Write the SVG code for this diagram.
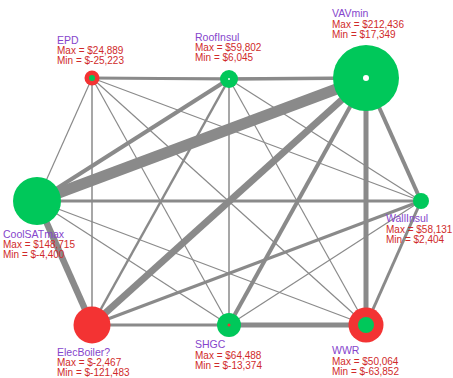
<svg xmlns="http://www.w3.org/2000/svg" width="453" height="378" viewBox="0 0 453 378">
<style>
.e{stroke:#8a8a8a;fill:none;stroke-linecap:butt}
.g{fill:#00c85a}
.r{fill:#f33333}
.n{font-family:"Liberation Sans",Arial,sans-serif;font-size:10.5px;fill:#8545cc}
.v{font-family:"Liberation Sans",Arial,sans-serif;font-size:10px;fill:#d02a2a}
</style>
<rect width="453" height="378" fill="#ffffff"/>
<g id="connectors">
<line class="e" x1="92" y1="78" x2="366" y2="78" stroke-width="1"/>
<line class="e" x1="92" y1="78" x2="229" y2="79" stroke-width="3"/>
<line class="e" x1="229" y1="79" x2="366" y2="78" stroke-width="3.5"/>
<line class="e" x1="92" y1="78" x2="37" y2="201" stroke-width="1.2"/>
<line class="e" x1="92" y1="78" x2="92" y2="325" stroke-width="1.5"/>
<line class="e" x1="92" y1="78" x2="229" y2="325" stroke-width="1.2"/>
<line class="e" x1="92" y1="78" x2="366" y2="325" stroke-width="1.2"/>
<line class="e" x1="92" y1="78" x2="421" y2="201" stroke-width="1.2"/>
<line class="e" x1="229" y1="79" x2="37" y2="201" stroke-width="4"/>
<line class="e" x1="229" y1="79" x2="92" y2="325" stroke-width="2.5"/>
<line class="e" x1="229" y1="79" x2="229" y2="325" stroke-width="1.5"/>
<line class="e" x1="229" y1="79" x2="366" y2="325" stroke-width="1.2"/>
<line class="e" x1="229" y1="79" x2="421" y2="201" stroke-width="1.2"/>
<line class="e" x1="366" y1="78" x2="37" y2="201" stroke-width="11"/>
<line class="e" x1="366" y1="78" x2="92" y2="325" stroke-width="7"/>
<line class="e" x1="366" y1="78" x2="229" y2="325" stroke-width="4"/>
<line class="e" x1="366" y1="78" x2="366" y2="325" stroke-width="5"/>
<line class="e" x1="366" y1="78" x2="421" y2="201" stroke-width="4"/>
<line class="e" x1="421" y1="201" x2="37" y2="201" stroke-width="3"/>
<line class="e" x1="421" y1="201" x2="92" y2="325" stroke-width="3"/>
<line class="e" x1="421" y1="201" x2="229" y2="325" stroke-width="1.2"/>
<line class="e" x1="421" y1="201" x2="366" y2="325" stroke-width="3"/>
<line class="e" x1="37" y1="201" x2="92" y2="325" stroke-width="6.5"/>
<line class="e" x1="37" y1="201" x2="229" y2="325" stroke-width="1.2"/>
<line class="e" x1="37" y1="201" x2="366" y2="325" stroke-width="1.2"/>
<line class="e" x1="92" y1="325" x2="366" y2="325" stroke-width="1"/>
<line class="e" x1="92" y1="325" x2="229" y2="325" stroke-width="3"/>
<line class="e" x1="229" y1="325" x2="366" y2="325" stroke-width="5"/>
</g>
<g id="EPD">
<circle class="r" cx="92" cy="78" r="7.5"/>
<circle class="g" cx="92" cy="78" r="3"/>
<text class="n" x="57" y="44">EPD</text>
<text class="v" x="57" y="54">Max = $24,889</text>
<text class="v" x="57" y="64">Min = $-25,223</text>
</g>
<g id="RoofInsul">
<circle class="g" cx="229" cy="79" r="9"/>
<circle cx="229" cy="79" r="1" fill="#e8fff0"/>
<text class="n" x="195" y="41">RoofInsul</text>
<text class="v" x="195" y="51">Max = $59,802</text>
<text class="v" x="195" y="61">Min = $6,045</text>
</g>
<g id="VAVmin">
<circle class="g" cx="366" cy="78" r="33"/>
<circle cx="366" cy="78" r="3" fill="#ffffff"/>
<text class="n" x="332" y="17">VAVmin</text>
<text class="v" x="332" y="27.5">Max = $212,436</text>
<text class="v" x="332" y="37.5">Min = $17,349</text>
</g>
<g id="WallInsul">
<circle class="g" cx="421" cy="201" r="8"/>
<text class="n" x="386" y="222">WallInsul</text>
<text class="v" x="386" y="232.5">Max = $58,131</text>
<text class="v" x="386" y="242.5">Min = $2,404</text>
</g>
<g id="CoolSATmax">
<circle class="g" cx="37" cy="201" r="24"/>
<text class="n" x="3" y="238">CoolSATmax</text>
<text class="v" x="3" y="248">Max = $148,715</text>
<text class="v" x="3" y="258">Min = $-4,400</text>
</g>
<g id="ElecBoiler">
<circle class="r" cx="92" cy="325" r="18.5"/>
<text class="n" x="57" y="355.5">ElecBoiler?</text>
<text class="v" x="57" y="365.5">Max = $-2,467</text>
<text class="v" x="57" y="375.5">Min = $-121,483</text>
</g>
<g id="SHGC">
<circle class="g" cx="229" cy="325" r="12"/>
<circle class="r" cx="229" cy="325" r="1.5"/>
<text class="n" x="195" y="348">SHGC</text>
<text class="v" x="195" y="358.5">Max = $64,488</text>
<text class="v" x="195" y="368.5">Min = $-13,374</text>
</g>
<g id="WWR">
<circle class="r" cx="366" cy="325" r="17.5"/>
<circle class="g" cx="366" cy="325" r="8"/>
<text class="n" x="332" y="354">WWR</text>
<text class="v" x="332" y="365">Max = $50,064</text>
<text class="v" x="332" y="375">Min = $-63,852</text>
</g>
</svg>
